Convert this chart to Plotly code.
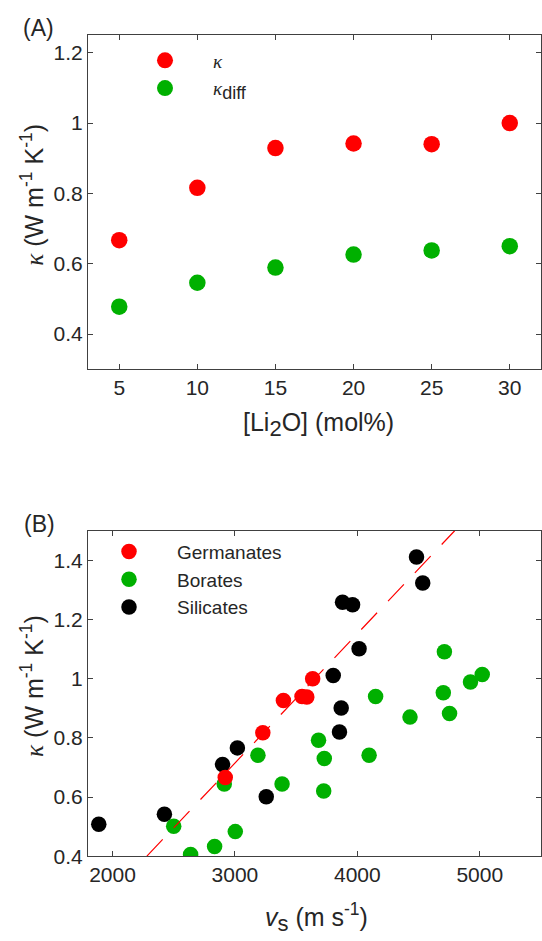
import plotly.graph_objects as go

# ---------------- data: panel (A) ----------------
li2o_mol = [5, 10, 15, 20, 25, 30]
kappa = [0.667, 0.816, 0.929, 0.942, 0.940, 1.000]
kappa_diff = [0.478, 0.546, 0.589, 0.626, 0.638, 0.650]

# ---------------- data: panel (B) ----------------
ger_vs = [2921, 3228, 3396, 3548, 3587, 3635]
ger_k = [0.666, 0.817, 0.926, 0.940, 0.938, 1.000]

bor_vs = [2500, 2638, 2834, 3003, 2913, 3188, 3385, 3683, 3730, 3725,
          4149, 4096, 4430, 4702, 4753, 4711, 4924, 5020]
bor_k = [0.501, 0.406, 0.433, 0.483, 0.644, 0.741, 0.644, 0.792, 0.730, 0.620,
         0.940, 0.741, 0.870, 0.952, 0.882, 1.091, 0.989, 1.014]

sil_vs = [1888, 2424, 2899, 3020, 3256, 3854, 3868, 3803, 4014, 3879, 3961, 4483, 4534]
sil_k = [0.508, 0.542, 0.710, 0.766, 0.601, 0.820, 0.901, 1.011, 1.101, 1.258, 1.250, 1.411, 1.323]

fit_vs = [2281, 4795]
fit_k = [0.4, 1.5]

# ticks
xa_ticks = [5, 10, 15, 20, 25, 30]
ya_ticks = [0.4, 0.6, 0.8, 1.0, 1.2]
ya_text = ["0.4", "0.6", "0.8", "1", "1.2"]
xb_ticks = [2000, 3000, 4000, 5000]
yb_ticks = [0.4, 0.6, 0.8, 1.0, 1.2, 1.4]
yb_text = ["0.4", "0.6", "0.8", "1", "1.2", "1.4"]

RED = "#FF0000"
GREEN = "#00B000"
BLACK = "#000000"
TXT = "#262626"
SANS = "Liberation Sans, Arial, sans-serif"
KAP = "<span style=\"font-family:'Liberation Serif'\"><i>κ</i></span>"


def sub(t, px):
    return "<sub><span style=\"font-size:%dpx\">%s</span></sub>" % (px, t)


W, H = 542, 941
fig = go.Figure()

fig.add_trace(go.Scatter(x=li2o_mol, y=kappa, mode="markers", name=KAP,
                         marker=dict(color=RED, size=16.5), xaxis="x", yaxis="y", legend="legend"))
fig.add_trace(go.Scatter(x=li2o_mol, y=kappa_diff, mode="markers", name=KAP + sub("diff", 18),
                         marker=dict(color=GREEN, size=16.5), xaxis="x", yaxis="y", legend="legend"))

fig.add_trace(go.Scatter(x=sil_vs, y=sil_k, mode="markers", name="Silicates",
                         marker=dict(color=BLACK, size=15.5), xaxis="x2", yaxis="y2", legend="legend2"))
fig.add_trace(go.Scatter(x=bor_vs, y=bor_k, mode="markers", name="Borates",
                         marker=dict(color=GREEN, size=15.5), xaxis="x2", yaxis="y2", legend="legend2"))
fig.add_trace(go.Scatter(x=fit_vs, y=fit_k, mode="lines", showlegend=False,
                         line=dict(color=RED, width=1.2, dash="23px,16px"), xaxis="x2", yaxis="y2"))
fig.add_trace(go.Scatter(x=ger_vs, y=ger_k, mode="markers", name="Germanates",
                         marker=dict(color=RED, size=15.5), xaxis="x2", yaxis="y2", legend="legend2"))

xdom = [88 / W, 541 / W]
ax_common = dict(showline=True, linecolor="#404040", linewidth=1, mirror="ticks",
                 ticks="inside", ticklen=5, tickcolor="#404040", tickwidth=1,
                 showgrid=False, zeroline=False,
                 tickfont=dict(family=SANS, size=21, color=TXT))

fig.update_layout(
    width=W, height=H, margin=dict(l=0, r=0, t=0, b=0),
    paper_bgcolor="white", plot_bgcolor="white",
    font=dict(family=SANS, color=TXT),
    xaxis=dict(domain=xdom, range=[3, 32], tickvals=xa_ticks, anchor="y", **ax_common),
    yaxis=dict(domain=[(H - 373.6) / H, (H - 35.6) / H], range=[0.3, 1.25],
               tickvals=ya_ticks, ticktext=ya_text, anchor="x", **ax_common),
    xaxis2=dict(domain=xdom, range=[1800, 5500], tickvals=xb_ticks, anchor="y2", **ax_common),
    yaxis2=dict(domain=[(H - 866.3) / H, (H - 537) / H], range=[0.4, 1.5],
                tickvals=yb_ticks, ticktext=yb_text, anchor="x2", **ax_common),
    legend=dict(x=117 / W, y=1 - 42 / H, xanchor="left", yanchor="top",
                bgcolor="rgba(0,0,0,0)", borderwidth=0, itemwidth=86,
                font=dict(family=SANS, size=19, color=TXT), tracegroupgap=0),
    legend2=dict(x=81 / W, y=1 - 539 / H, xanchor="left", yanchor="top",
                 bgcolor="rgba(0,0,0,0)", borderwidth=0, itemwidth=86, traceorder="reversed",
                 font=dict(family=SANS, size=19, color=TXT), tracegroupgap=0),
)

ann = [
    dict(text="(A)", x=38 / W, y=1 - 28 / H, xanchor="center", yanchor="middle", font=dict(size=23)),
    dict(text="(B)", x=39 / W, y=1 - 530 / H, xanchor="center", yanchor="middle", font=dict(size=23)),
    dict(text="[Li" + sub("2", 22) + "O] (mol%)", x=318 / W, y=1 - 430 / H, xanchor="center",
         yanchor="middle", font=dict(size=25)),
    dict(text="<i>v</i>" + sub("s", 22) + " (m s<sup>-1</sup>)", x=316 / W, y=1 - 928 / H,
         xanchor="center", yanchor="middle", font=dict(size=25)),
    dict(text=KAP + " (W m<sup>-1</sup> K<sup>-1</sup>)", x=32 / W, y=1 - 197 / H, xanchor="center",
         yanchor="middle", textangle=-90, font=dict(size=25)),
    dict(text=KAP + " (W m<sup>-1</sup> K<sup>-1</sup>)", x=32 / W, y=1 - 694 / H, xanchor="center",
         yanchor="middle", textangle=-90, font=dict(size=25)),
]
for a in ann:
    a.update(xref="paper", yref="paper", showarrow=False)
    a["font"].update(family=SANS, color=TXT)
fig.update_layout(annotations=ann)

fig.write_html("out.html")
